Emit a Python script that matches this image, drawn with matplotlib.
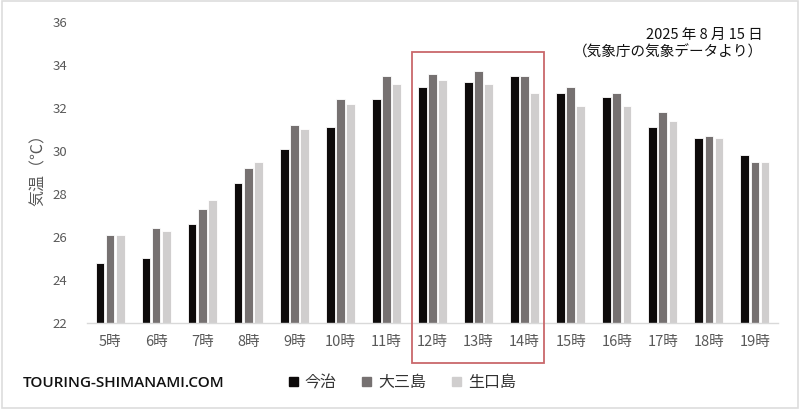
import matplotlib.pyplot as plt
import matplotlib.patches as patches
import matplotlib.transforms as transforms
import numpy as np

plt.rcParams['font.family'] = ['Noto Sans CJK JP', 'DejaVu Sans']

# データ（気温 ℃）
hours = ['5時', '6時', '7時', '8時', '9時', '10時', '11時', '12時',
         '13時', '14時', '15時', '16時', '17時', '18時', '19時']
imabari = [24.8, 25.0, 26.6, 28.5, 30.1, 31.1, 32.4, 33.0,
           33.2, 33.5, 32.7, 32.5, 31.1, 30.6, 29.8]
omishima = [26.1, 26.4, 27.3, 29.2, 31.2, 32.4, 33.5, 33.6,
            33.7, 33.5, 33.0, 32.7, 31.8, 30.7, 29.5]
ikuchijima = [26.1, 26.3, 27.7, 29.5, 31.0, 32.2, 33.1, 33.3,
              33.1, 32.7, 32.1, 32.1, 31.4, 30.6, 29.5]
names = ['今治', '大三島', '生口島']
yticks = [22, 24, 26, 28, 30, 32, 34, 36]
highlight = ['12時', '14時']  # 赤枠で囲む範囲

colors = ['#0d0a0a', '#767171', '#d0cece']
tick_color = '#595959'

fig = plt.figure(figsize=(8, 4.09), dpi=100)
ax = fig.add_axes([0.10875, 0.2103, 0.86375, 0.7359])

x = np.arange(len(hours))
w = 0.19
step = 0.22
for i, (vals, c) in enumerate(zip([imabari, omishima, ikuchijima], colors)):
    ax.bar(x + (i - 1) * step, vals, width=w, color=c, label=names[i],
           edgecolor='white', linewidth=0.6)

ax.set_xlim(-0.5, len(hours) - 0.5)
ax.set_ylim(22, 36)
ax.set_yticks(yticks)
ax.set_yticklabels([str(v) for v in yticks], color=tick_color, fontsize=9.5)
ax.set_xticks(x)
ax.set_xticklabels(hours, color=tick_color, fontsize=10.5)
ax.tick_params(axis='both', length=0)
ax.tick_params(axis='y', pad=14)
ax.tick_params(axis='x', pad=9)
for s in ['top', 'right', 'left']:
    ax.spines[s].set_visible(False)
ax.spines['bottom'].set_color('#d9d9d9')
ax.spines['bottom'].set_linewidth(1)

ax.set_ylabel('気温（℃）', color=tick_color, fontsize=11.5)
ax.yaxis.set_label_coords(-0.058, 0.52)

# 日付と出典
fig.text(0.954, 0.915, '2025 年 8 月 15 日', ha='right', va='center', fontsize=10.5, color='#111111')
fig.text(0.954, 0.872, '（気象庁の気象データより）', ha='right', va='center', fontsize=10.5, color='#111111')

# 赤枠
i0 = hours.index(highlight[0])
i1 = hours.index(highlight[1])
trans = transforms.blended_transform_factory(ax.transData, fig.transFigure)
rect = patches.Rectangle((i0 - 0.44, 0.112), (i1 - i0) + 0.86, 0.761, transform=trans,
                         fill=False, edgecolor='#c9686b', linewidth=1.3, clip_on=False)
fig.add_artist(rect)

# 凡例
handles = [patches.Patch(color=c) for c in colors]
fig.legend(handles, names, loc='center', bbox_to_anchor=(0.503, 0.064), ncol=3,
           frameon=False, fontsize=11.5, handlelength=0.55, handleheight=0.55,
           handletextpad=0.45, columnspacing=1.6, labelcolor='#333333')

fig.text(0.028, 0.064, 'TOURING-SHIMANAMI.COM', ha='left', va='center',
         fontsize=11, color='#111111', family=['Open Sans', 'DejaVu Sans'], weight='semibold')

# 外枠
fig.add_artist(patches.Rectangle((0.002, 0.003), 0.996, 0.994, transform=fig.transFigure,
                                 fill=False, edgecolor='#dddddd', linewidth=1.2))

fig.savefig('out.png', dpi=100)
